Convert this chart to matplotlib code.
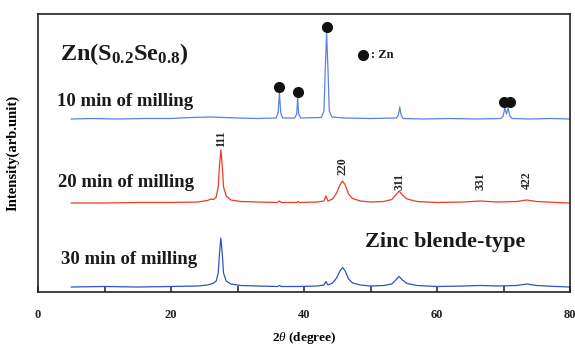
import matplotlib
matplotlib.use('Agg')
import matplotlib.pyplot as plt
import numpy as np

plt.rcParams['font.family'] = ['Liberation Serif', 'DejaVu Serif']
plt.rcParams['mathtext.fontset'] = 'custom'
plt.rcParams['mathtext.rm'] = 'Liberation Serif'
plt.rcParams['mathtext.it'] = 'Liberation Serif:italic'
plt.rcParams['mathtext.bf'] = 'Liberation Serif:bold'

# 10 min of milling (intensity above its own baseline, arb. units)
x_10 = [5, 8, 12, 16, 20, 23, 26, 28, 30, 33, 35.8, 36.1, 36.3, 36.5, 36.8,
        38.6, 38.9, 39.05, 39.2, 39.5, 42.6, 43.0, 43.2, 43.4, 43.6, 43.8, 44.2,
        46, 50, 53.9, 54.2, 54.4, 54.6, 54.9, 58, 62, 66, 69.6, 69.95, 70.2,
        70.45, 70.7, 70.95, 71.3, 74, 77, 80]
y_10 = [0, 0.5, 0, 0.5, 0.5, 1.5, 2, 1.5, 1, 0.5, 1, 6, 26, 6, 1,
        1, 5, 21, 5, 1, 1.5, 8, 50, 86, 50, 8, 2,
        1, 0.5, 1, 4, 12, 4, 0.5, 0, 0.5, 0, 0.5, 3, 11,
        5, 11, 3, 0.5, 0, 0.5, 0]

# 20 min of milling
x_20 = [5, 10, 15, 20, 24, 25.5, 26.0, 26.4, 26.8, 27.1, 27.3, 27.5, 27.7, 27.9,
        28.3, 29, 30.5, 33, 36.0, 36.3, 36.6, 38.9, 39.1, 39.3, 42, 43.0, 43.3,
        43.6, 44.3, 44.9, 45.4, 45.8, 46.2, 46.7, 47.3, 48.5, 50, 52, 53.2, 53.8,
        54.3, 54.8, 55.5, 57, 60, 64, 66.5, 69, 72, 73.5, 75, 78, 80]
y_20 = [0, 0, 0.5, 0.5, 1, 2.5, 4, 3.5, 6, 16, 38, 53, 38, 16,
        7, 3, 1.5, 1, 0.5, 2, 0.5, 0.5, 1.5, 0.5, 1, 2, 7,
        2, 4, 10, 18, 22, 18, 9, 4.5, 2, 1, 1.5, 3.5, 8,
        12, 8, 4, 1.5, 0.5, 1, 2, 1, 1.5, 3, 1.5, 0.5, 0]

# 30 min of milling
x_30 = [5, 10, 15, 20, 24, 25.5, 26.3, 26.8, 27.1, 27.3, 27.5, 27.7, 27.9,
        28.3, 29, 30.5, 33, 36.0, 36.3, 36.6, 39, 42, 43.0, 43.3, 43.6, 44.3,
        44.9, 45.4, 45.8, 46.2, 46.7, 47.3, 48.5, 50, 52, 53.2, 53.8, 54.3,
        54.8, 55.5, 57, 60, 64, 66.5, 69, 72, 73.5, 75, 78, 80]
y_30 = [0, 0.5, 0, 0.5, 1, 2, 3.5, 6, 14, 34, 49, 34, 14,
        6, 3, 1.5, 1, 0.5, 1.5, 0.5, 0.5, 1, 2, 5.5, 2, 4,
        9, 16, 19.5, 16, 8, 4, 2, 1, 1.5, 3, 7, 10.5,
        7, 3.5, 1.5, 0.5, 1, 1.5, 1, 1.5, 3, 1.5, 0.5, 0]

zn_peaks = [36.3, 39.05, 43.4, 70.1, 71.0]
hkl_labels = ['111', '220', '311', '331', '422']
hkl_peaks = [27.5, 45.8, 54.3, 66.5, 73.5]
hkl_text_y = [145, 117, 102, 102, 103]
tick_labels = ['0', '20', '40', '60', '80']

offsets = {'10': 173, '20': 89, '30': 5}

fig = plt.figure(figsize=(5.75, 3.47), dpi=100)
ax = fig.add_axes([38 / 575, 55 / 347, 532 / 575, 278 / 347])

ax.plot(x_10, np.array(y_10) + offsets['10'], color='#5a82e6', lw=0.9)
ax.plot(x_20, np.array(y_20) + offsets['20'], color='#ec3b26', lw=0.9)
ax.plot(x_30, np.array(y_30) + offsets['30'], color='#2f52c4', lw=0.9)

# Zn markers above the 10 min peaks
xs = np.array(x_10)
ys = np.array(y_10)
for p in zn_peaks:
    top = ys[(xs > p - 0.4) & (xs < p + 0.4)].max()
    ax.plot(p, top + offsets['10'] + 6.5, 'o', color='#111111', ms=7)

# hkl labels on the 20 min pattern
for lab, p, ty in zip(hkl_labels, hkl_peaks, hkl_text_y):
    ax.text(p, ty, lab, rotation=90, ha='center', va='bottom',
            fontsize=8.5, fontweight='bold', color='#222222')

txt = dict(fontweight='bold', color='#1a1a1a')
ax.text(0.041, 0.855, r'$\mathbf{Zn(S_{0.2}Se_{0.8})}$', transform=ax.transAxes,
        fontsize=17.5, va='center', ha='left', **txt)
ax.plot(0.611, 0.853, 'o', color='#111111', ms=7, transform=ax.transAxes)
ax.text(0.626, 0.853, ': Zn', transform=ax.transAxes, fontsize=9,
        va='center', ha='left', **txt)
ax.text(0.036, 0.685, '10 min of milling', transform=ax.transAxes, fontsize=13.5,
        va='center', ha='left', **txt)
ax.text(0.038, 0.395, '20 min of milling', transform=ax.transAxes, fontsize=13.5,
        va='center', ha='left', **txt)
ax.text(0.043, 0.117, '30 min of milling', transform=ax.transAxes, fontsize=13.5,
        va='center', ha='left', **txt)
ax.text(0.615, 0.18, 'Zinc blende-type', transform=ax.transAxes, fontsize=16,
        va='center', ha='left', **txt)

ax.set_xlim(0, 80)
ax.set_ylim(0, 278)
ax.set_xticks([0, 20, 40, 60, 80])
ax.set_xticklabels(tick_labels, fontweight='bold')
ax.set_xticks([10, 30, 50, 70], minor=True)
ax.tick_params(axis='x', which='both', direction='in', length=4, width=1.1,
               pad=12, labelsize=9, colors='#222222', top=False)
ax.set_yticks([])

for s in ax.spines.values():
    s.set_linewidth(1.2)
    s.set_color('#222222')

ax.set_xlabel(r'2$\it{\theta}$ (degree)', fontsize=9.5, fontweight='bold', labelpad=7)
ax.set_ylabel('Intensity(arb.unit)', fontsize=10.5, fontweight='bold')
ax.yaxis.set_label_coords(-0.034, 0.5)

fig.savefig('out.png', dpi=100)
